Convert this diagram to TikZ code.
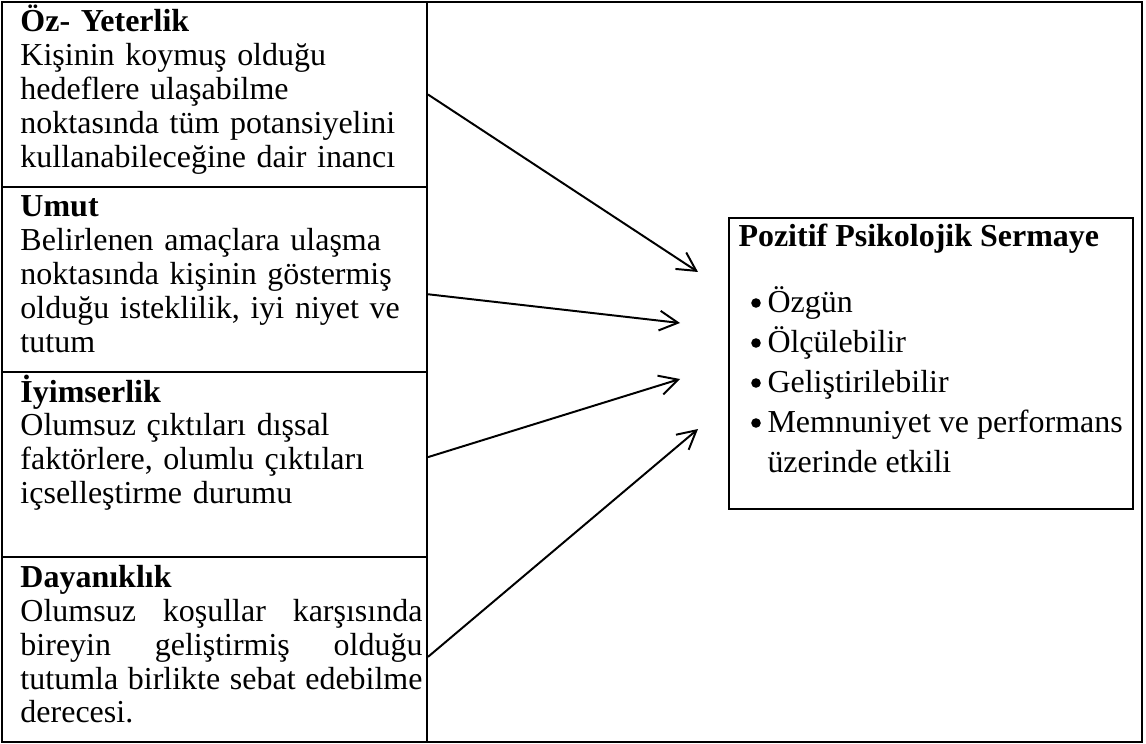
\documentclass[tikz,border=0pt]{standalone}
\usepackage{fontspec}
\setmainfont{Liberation Serif}
\usetikzlibrary{arrows.meta}

\def\px{0.4065pt}

\tikzset{
  outerframe/.style={line width=0.8pt},
  leftbox/.style={draw, line width=0.8pt, minimum width=425*\px, minimum height=185*\px, inner sep=0pt},
  boxtext/.style={anchor=base west, inner sep=0pt, text width=402*\px, align=left, font=\fontsize{13}{13.82}\selectfont},
  ppsbox/.style={draw, line width=0.8pt, minimum width=404*\px, minimum height=291*\px, inner sep=0pt},
  itemtext/.style={anchor=base west, inner sep=0pt, font=\fontsize{13}{13.82}\selectfont},
  dot/.style={circle, fill, inner sep=0pt, minimum size=3.9pt},
  conn/.style={line width=0.8pt, -{Straight Barb[length=7.5pt,width=8pt,line width=0.8pt]}}
}

\begin{document}
\begin{tikzpicture}[x=\px, y=-\px]
    \useasboundingbox (0,0) rectangle (1146,744);

    % outer frame
    \draw[outerframe] (2,2) rectangle (1142,742);

    % left column
    \node[leftbox] (oz) at (214.5,94.5) {};
    \node[leftbox] (umut) at (214.5,279.5) {};
    \node[leftbox] (iyim) at (214.5,464.5) {};
    \node[leftbox] (dayan) at (214.5,649.5) {};

    \node[boxtext] (oztext) at (20,32) {\textbf{Öz- Yeterlik}\\
      Kişinin koymuş olduğu\\
      hedeflere ulaşabilme\\
      noktasında tüm potansiyelini\\
      kullanabileceğine dair inancı};
    \node[boxtext] (umuttext) at (20,217) {\textbf{Umut}\\
      Belirlenen amaçlara ulaşma\\
      noktasında kişinin göstermiş\\
      olduğu isteklilik, iyi niyet ve\\
      tutum};
    \node[boxtext] (iyimtext) at (20,402) {\textbf{İyimserlik}\\
      Olumsuz çıktıları dışsal\\
      faktörlere, olumlu çıktıları\\
      içselleştirme durumu};
    \node[boxtext, align=justify] (dayantext) at (20,587) {\textbf{Dayanıklık}\\
      Olumsuz koşullar karşısında\linebreak
      bireyin geliştirmiş olduğu\linebreak
      tutumla birlikte sebat edebilme\linebreak
      derecesi.};

    % right box
    \node[ppsbox] (pps) at (931,363.5) {};
    \node[itemtext] (ppstitle) at (738,247) {\textbf{Pozitif Psikolojik Sermaye}};
    \foreach \txt [count=\i] in {Özgün, Ölçülebilir, Geliştirilebilir, Memnuniyet ve performans}{
      \node[itemtext] (item\i) at (767,{312+40*(\i-1)}) {\txt};
      \node[dot] (bullet\i) at (756,{303+40*(\i-1)}) {};
    }
    \node[itemtext] (item5) at (767,472) {üzerinde etkili};

    % arrow ends
    \coordinate (t1) at (698,272);
    \coordinate (t2) at (680,323);
    \coordinate (t3) at (680,379);
    \coordinate (t4) at (698,429);

    \draw[conn] (oz.east) -- (t1);
    \draw[conn] ([yshift=-6pt]umut.east) -- (t2);
    \draw[conn] ([yshift=3pt]iyim.east) -- (t3);
    \draw[conn] ([yshift=-3pt]dayan.east) -- (t4);
  \end{tikzpicture}
\end{document}
